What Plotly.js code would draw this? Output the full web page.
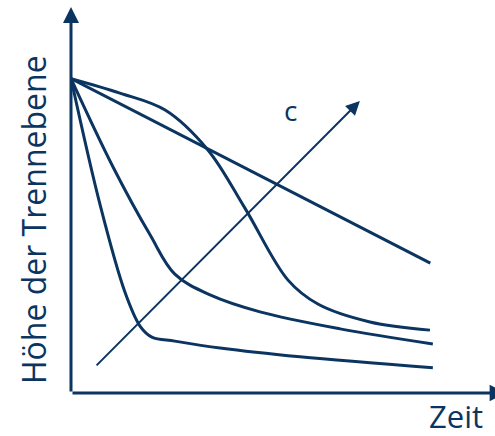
<!DOCTYPE html>
<html>
<head>
<meta charset="utf-8">
<script src="https://cdn.plot.ly/plotly-3.0.1.min.js"></script>
<style>
  html, body { margin: 0; padding: 0; background: #fff; }
  #chart { width: 495px; height: 436px; }
</style>
</head>
<body>
<div id="chart"></div>
<script>
// Sketch values: time (x) and interface height (y), height starts at 100
const linearX = [0, 100];
const linearY = [100, 41.3];

const sCurveX = [0, 13.6, 26.2, 38.1, 48.4, 60.4, 68.7, 83.2, 99.9];
const sCurveY = [100, 95.4, 90.0, 77.3, 58.8, 35.9, 28.3, 22.6, 20.0];

const midX = [0, 11.7, 22.0, 28.9, 38.7, 52.6, 74.9, 100.7];
const midY = [100, 71.9, 50.3, 37.8, 31.2, 25.8, 20.4, 15.6];

const fastX = [0, 8.1, 15.0, 19.2, 22.5, 28.9, 41.5, 63.7, 100.7];
const fastY = [100, 59.8, 32.1, 21.3, 17.8, 16.5, 14.3, 11.5, 8.0];

// arrow for increasing concentration c: [tail, head]
const cArrowX = [6.7, 80.4];
const cArrowY = [8.3, 92.9];

const navy = "#0b3560";

function curve(x, y, shape) {
    return {
        x: x,
        y: y,
        type: "scatter",
        mode: "lines",
        line: {color: navy, width: 3, shape: shape, smoothing: 1},
        hoverinfo: "skip",
        showlegend: false
    };
}

const data = [
    curve(linearX, linearY, "linear"),
    curve(sCurveX, sCurveY, "spline"),
    curve(midX, midY, "spline"),
    curve(fastX, fastY, "spline")
];

const hiddenAxis = {
    showline: false,
    showgrid: false,
    zeroline: false,
    showticklabels: false,
    ticks: "",
    fixedrange: true
};

const layout = {
    width: 495,
    height: 436,
    margin: {l: 71, r: 0, t: 0, b: 43},
    paper_bgcolor: "#ffffff",
    plot_bgcolor: "#ffffff",
    xaxis: Object.assign({range: [0, 118]}, hiddenAxis),
    yaxis: Object.assign({range: [0, 125]}, hiddenAxis),
    annotations: [
        // y axis with arrow
        {
            x: 0, y: 122.8, ax: 0, ay: 0,
            xref: "x", yref: "y", axref: "x", ayref: "y",
            text: "", showarrow: true,
            arrowhead: 2, arrowsize: 1.07, arrowwidth: 3, arrowcolor: navy,
            standoff: 0, startstandoff: 0
        },
        // x axis with arrow
        {
            x: 121.1, y: 0, ax: 0, ay: 0,
            xref: "x", yref: "y", axref: "x", ayref: "y",
            text: "", showarrow: true,
            arrowhead: 2, arrowsize: 1.1, arrowwidth: 3, arrowcolor: navy,
            standoff: 0, startstandoff: 0
        },
        // c arrow
        {
            x: cArrowX[1], y: cArrowY[1], ax: cArrowX[0], ay: cArrowY[0],
            xref: "x", yref: "y", axref: "x", ayref: "y",
            text: "", showarrow: true,
            arrowhead: 2, arrowsize: 1.4, arrowwidth: 2, arrowcolor: navy,
            standoff: 0, startstandoff: 0
        },
        {
            x: 61.0, y: 90.0, xref: "x", yref: "y",
            text: "c", showarrow: false,
            xanchor: "center", yanchor: "middle",
            font: {family: "Open Sans", size: 28, color: navy}
        },
        {
            x: -0.0896, y: 0.44, xref: "paper", yref: "paper",
            text: "Höhe der Trennebene", showarrow: false, textangle: -90,
            xanchor: "center", yanchor: "middle",
            font: {family: "Open Sans", size: 32, color: navy}
        },
        {
            x: 0.907, y: -0.058, xref: "paper", yref: "paper",
            text: "Zeit", showarrow: false,
            xanchor: "center", yanchor: "middle",
            font: {family: "Open Sans", size: 31, color: navy}
        }
    ]
};

Plotly.newPlot("chart", data, layout, {displayModeBar: false, staticPlot: true});
</script>
</body>
</html>
